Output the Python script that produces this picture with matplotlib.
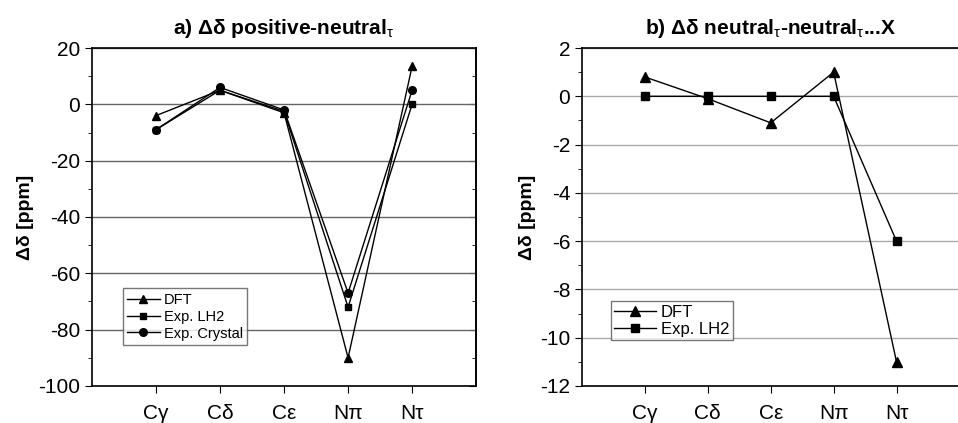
import matplotlib
matplotlib.use("Agg")
import matplotlib.pyplot as plt
from matplotlib.ticker import MultipleLocator

plt.rcParams['font.family'] = ['Liberation Sans', 'DejaVu Sans']
plt.rcParams['mathtext.fontset'] = 'custom'
plt.rcParams['mathtext.rm'] = 'Liberation Sans'
plt.rcParams['mathtext.it'] = 'Liberation Sans:italic'
plt.rcParams['mathtext.bf'] = 'Liberation Sans:bold'
plt.rcParams['axes.unicode_minus'] = False

categories = ["Cγ", "Cδ", "Cε", "Nπ", "Nτ"]

a_dft = [-4, 5, -3, -90, 13.5]
a_lh2 = [-9, 5, -2.5, -72, 0]
a_crystal = [-9, 6, -2, -67, 5]

b_dft = [0.8, -0.1, -1.1, 1.0, -11]
b_lh2 = [0, 0, 0, 0, -6]

fig = plt.figure(figsize=(9.58, 4.23), dpi=100)
ax1 = fig.add_axes([0.096, 0.0875, 0.401, 0.799])
ax2 = fig.add_axes([0.6075, 0.0875, 0.394, 0.799])

x = list(range(1, len(categories) + 1))

def style(ax, ylim, major, minor, gridcolor):
    ax.set_xlim(0, 6)
    ax.set_ylim(*ylim)
    ax.set_xticks(x)
    ax.set_xticklabels(categories, fontsize=15)
    ax.yaxis.set_major_locator(MultipleLocator(major))
    ax.yaxis.set_minor_locator(MultipleLocator(minor))
    ax.tick_params(axis='y', which='major', direction='out', length=5, labelsize=15)
    ax.tick_params(axis='y', which='minor', direction='out', length=3)
    ax.tick_params(axis='x', which='major', direction='out', length=5, pad=8)
    ax.yaxis.grid(True, which='major', color=gridcolor, linewidth=1.0)
    ax.set_axisbelow(True)
    for s in ax.spines.values():
        s.set_linewidth(1.2)
    ax.set_ylabel("Δδ [ppm]", fontsize=14, fontweight='bold', labelpad=3)

ms = dict(color='black', linewidth=1.0)
ax1.plot(x, a_dft, marker='^', markersize=6, label='DFT', **ms)
ax1.plot(x, a_lh2, marker='s', markersize=5, label='Exp. LH2', **ms)
ax1.plot(x, a_crystal, marker='o', markersize=5.5, label='Exp. Crystal', **ms)
style(ax1, (-100, 20), 20, 10, '#666666')
# inward ticks on right spine of panel a
sec = ax1.secondary_yaxis('right')
sec.yaxis.set_major_locator(MultipleLocator(20))
sec.yaxis.set_minor_locator(MultipleLocator(10))
sec.tick_params(which='major', direction='in', length=5, labelright=False)
sec.tick_params(which='minor', direction='in', length=3)
sec.spines['right'].set_linewidth(1.2)
ax1.set_title("a) Δδ positive-neutral$_{\\mathrm{τ}}$", fontsize=15, fontweight='bold', pad=10)
leg1 = ax1.legend(loc='lower left', bbox_to_anchor=(0.062, 0.1), fontsize=10.5,
                  frameon=True, fancybox=False, edgecolor='#555555', handlelength=2.2,
                  borderpad=0.3, labelspacing=0.2, handletextpad=0.3)
leg1.get_frame().set_linewidth(1.0)

ax2.plot(x, b_dft, marker='^', markersize=7, label='DFT', **ms)
ax2.plot(x, b_lh2, marker='s', markersize=6, label='Exp. LH2', **ms)
style(ax2, (-12, 2), 2, 1, '#aaaaaa')
ax2.spines['right'].set_visible(False)
ax2.set_title("b) Δδ neutral$_{\\mathrm{τ}}$-neutral$_{\\mathrm{τ}}$...X", fontsize=15, fontweight='bold', pad=10)
leg2 = ax2.legend(loc='lower left', bbox_to_anchor=(0.055, 0.11), fontsize=12,
                  frameon=True, fancybox=False, edgecolor='#555555', handlelength=2.5,
                  borderpad=0.2, labelspacing=0.15, handletextpad=0.3)
leg2.get_frame().set_linewidth(1.0)

fig.savefig("out.png", dpi=100)
